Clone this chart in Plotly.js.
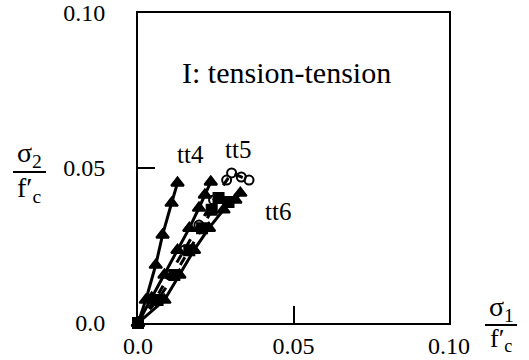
<!DOCTYPE html>
<html>
<head>
<meta charset="utf-8">
<script src="https://cdn.plot.ly/plotly-3.0.1.min.js"></script>
<style>
  html, body { margin: 0; padding: 0; background: #fff; }
  #chart { width: 529px; height: 360px; }
</style>
</head>
<body>
<div id="chart"></div>
<script>
// Biaxial tension-tension failure paths, normalised by f'c
const tt4X = [0, 0.0025, 0.0057, 0.0079, 0.0108, 0.0127];
const tt4Y = [0, 0.0074, 0.0187, 0.0284, 0.0387, 0.0452];

const tt5aX = [0, 0.0044, 0.0085, 0.0127, 0.0165, 0.0196, 0.0215, 0.0234];
const tt5aY = [0, 0.0081, 0.0155, 0.0235, 0.0306, 0.0371, 0.0413, 0.0455];

const tt5bX = [0, 0.0054, 0.0101, 0.0149, 0.0196, 0.0243, 0.0285, 0.0301, 0.0332, 0.0357];
const tt5bY = [0, 0.0074, 0.0155, 0.0235, 0.0316, 0.0397, 0.0461, 0.0484, 0.0471, 0.0461];

const tt6aX = [0, 0.0063, 0.0117, 0.0165, 0.0206, 0.0237, 0.0259, 0.0291];
const tt6aY = [0, 0.0074, 0.0155, 0.0235, 0.0306, 0.0365, 0.0403, 0.0390];

const tt6bX = [0, 0.0085, 0.0133, 0.0180, 0.0228, 0.0275, 0.0313, 0.0329];
const tt6bY = [0, 0.0074, 0.0155, 0.0235, 0.0306, 0.0365, 0.0397, 0.0419];

const tickVals = [0, 0.05, 0.1];
const tickText = ['0.0', '0.05', '0.10'];

const FONT = 'Liberation Serif';

function series(x, y, dash, symbol, size) {
  return {
    x: x, y: y, type: 'scatter', mode: 'lines+markers',
    line: { color: '#000', width: 3, dash: dash },
    marker: { symbol: symbol, size: size, color: '#000',
              line: { color: '#000', width: 2 } },
    cliponaxis: false, hoverinfo: 'skip'
  };
}

const data = [
  series(tt4X, tt4Y, 'solid', 'triangle-up', 11),
  series(tt6bX, tt6bY, 'solid', 'triangle-up', 11),
  series(tt6aX, tt6aY, 'dash', 'square', 10),
  series(tt5aX, tt5aY, 'solid', 'triangle-up', 11),
  series(tt5bX, tt5bY, 'dash', 'circle-open', 9)
];

const axisBase = {
  range: [0, 0.1],
  tickvals: tickVals, ticktext: tickText,
  ticks: 'inside', ticklen: 17, tickwidth: 2, tickcolor: '#000',
  ticklabeloverflow: 'allow',
  showline: true, mirror: true, linecolor: '#000', linewidth: 2,
  showgrid: false, zeroline: false,
  tickfont: { family: FONT, size: 24, color: '#000' },
  fixedrange: true
};

const annotations = [
  { text: 'I: tension-tension', x: 286, y: 72, size: 30 },
  { text: 'tt4', x: 190, y: 155, size: 25 },
  { text: 'tt5', x: 238, y: 149, size: 25 },
  { text: 'tt6', x: 278, y: 211, size: 25 },
  { text: 'σ<sub>2</sub>', x: 29, y: 155, size: 28 },
  { text: 'f′<sub>c</sub>', x: 29, y: 189, size: 28 },
  { text: 'σ<sub>1</sub>', x: 501, y: 308, size: 28 },
  { text: 'f′<sub>c</sub>', x: 501, y: 340, size: 26 }
].map(a => ({
  text: a.text, xref: 'paper', yref: 'paper',
  x: (a.x - 138) / 311, y: (323 - a.y) / 310,
  xanchor: 'center', yanchor: 'middle', showarrow: false,
  font: { family: FONT, size: a.size, color: '#000' }
}));

const fracBar = (x0, x1, y) => ({
  type: 'line', xref: 'paper', yref: 'paper',
  x0: (x0 - 138) / 311, x1: (x1 - 138) / 311,
  y0: (323 - y) / 310, y1: (323 - y) / 310,
  line: { color: '#000', width: 2 }
});

const layout = {
  width: 529, height: 360,
  margin: { l: 138, r: 80, t: 13, b: 37, pad: 0 },
  paper_bgcolor: '#fff', plot_bgcolor: '#fff',
  showlegend: false,
  font: { family: FONT, color: '#000' },
  xaxis: Object.assign({}, axisBase, { ticklabelstandoff: 0 }),
  yaxis: Object.assign({}, axisBase, { ticklabelstandoff: 26 }),
  annotations: annotations,
  shapes: [fracBar(13, 46, 172), fracBar(485, 517, 325)]
};

Plotly.newPlot('chart', data, layout, { staticPlot: true, displayModeBar: false });
</script>
</body>
</html>
